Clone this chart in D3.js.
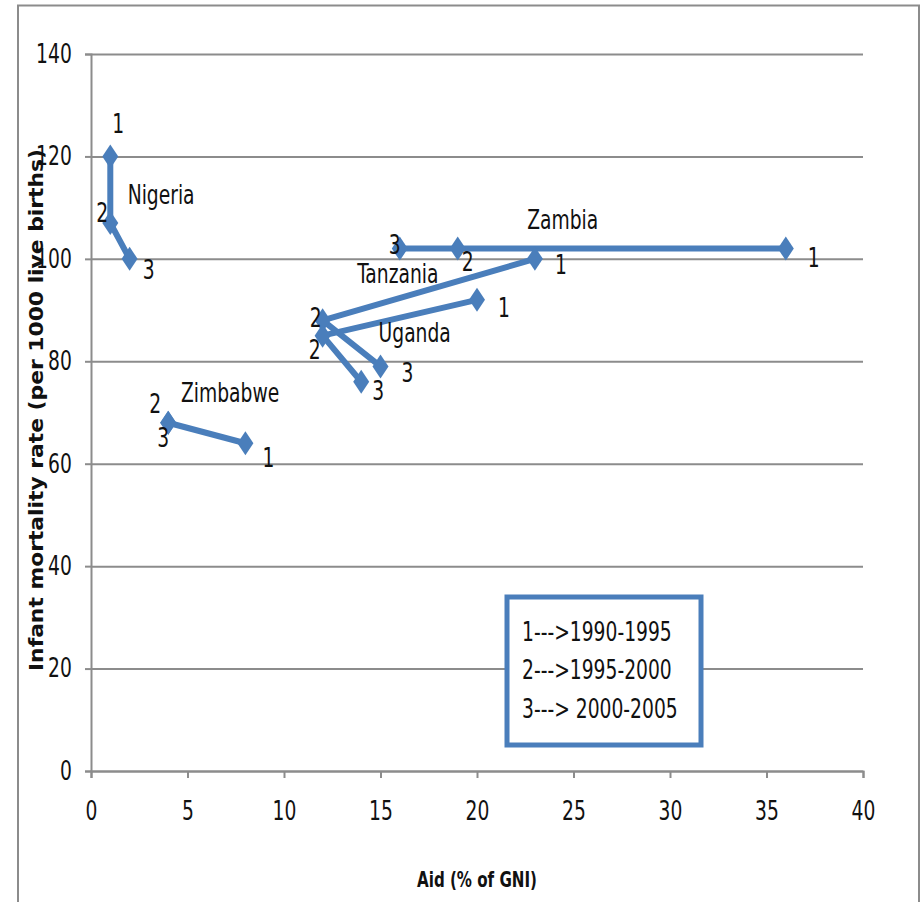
<!DOCTYPE html>
<html>
<head>
<meta charset="utf-8">
<script src="https://cdn.jsdelivr.net/npm/d3@7"></script>
<style>
  body { margin: 0; background: #fff; }
  text { font-family: "DejaVu Sans Condensed", "Liberation Sans", sans-serif; fill: #111; }
</style>
</head>
<body>
<script>
'use strict'

// data: aid (% of GNI) vs infant mortality, periods 1,2,3
const countries = ['Nigeria', 'Zambia', 'Tanzania', 'Uganda', 'Zimbabwe']
const periods = ['1', '2', '3']
const nigeriaAid = [1, 1, 2]
const nigeriaImr = [120, 107, 100]
const zambiaAid = [36, 19, 16]
const zambiaImr = [102, 102, 102]
const tanzaniaAid = [23, 12, 15]
const tanzaniaImr = [100, 88, 79]
const ugandaAid = [20, 12, 14]
const ugandaImr = [92, 85, 76]
const zimbabweAid = [8, 4, 4]
const zimbabweImr = [64, 68, 68]
const xTicks = [0, 5, 10, 15, 20, 25, 30, 35, 40]
const yTicks = [0, 20, 40, 60, 80, 100, 120, 140]
const legendLines = ['1--->1990-1995', '2--->1995-2000', '3---> 2000-2005']

const series = [
    { name: countries[0], aid: nigeriaAid, imr: nigeriaImr },
    { name: countries[1], aid: zambiaAid, imr: zambiaImr },
    { name: countries[2], aid: tanzaniaAid, imr: tanzaniaImr },
    { name: countries[3], aid: ugandaAid, imr: ugandaImr },
    { name: countries[4], aid: zimbabweAid, imr: zimbabweImr }
]

// where the period numbers sit relative to each point (px), per country
const numberOffsets = [
    [[8, -32], [-8, -10], [19, 11]],
    [[28, 10], [10, 14], [-5, -3]],
    [[26, 6], [-7, -2], [27, 7]],
    [[27, 8], [-8, 14], [17, 9]],
    [[23, 15], [-13, -19], [-5, 15]]
]
// country name anchors in data units (left edge, baseline)
const nameAnchors = [[1.9, 110.7], [22.6, 105.9], [13.8, 95.3], [14.9, 83.8], [4.66, 72.1]]

const W = 922, H = 902
const blue = '#4a7ebb'
const grid = '#8c8c8c'
const SQ = 0.8   // horizontal squeeze, the original font is a narrow one

const svg = d3.select('body').append('svg')
    .attr('width', W)
    .attr('height', H)

// text placed with a horizontal squeeze
function label(px, py, str, size) {
    return svg.append('text')
        .attr('transform', `translate(${px},${py}) scale(${SQ},1)`)
        .attr('font-size', size)
        .text(str)
}

// outer chart frame
svg.append('rect')
    .attr('x', 18).attr('y', 5.5)
    .attr('width', 901).attr('height', 920)
    .attr('fill', 'none')
    .attr('stroke', grid)
    .attr('stroke-width', 2)

const x = d3.scaleLinear().domain([0, 40]).range([91, 863])
const y = d3.scaleLinear().domain([0, 140]).range([771, 54])

// horizontal gridlines + y axis
const yAxis = svg.append('g')
    .attr('transform', `translate(${x(0)},0)`)
    .call(d3.axisLeft(y).tickValues(yTicks).tickSize(6).tickPadding(18))
yAxis.select('.domain').attr('stroke', grid).attr('stroke-width', 2)
yAxis.selectAll('.tick line').attr('stroke', grid).attr('stroke-width', 2)
yAxis.selectAll('.tick text')
    .attr('font-size', 26).attr('font-family', null).attr('fill', '#111')
    .attr('transform', `scale(${SQ},1)`)
yAxis.selectAll('.tick').append('line')
    .attr('x1', 0).attr('x2', x(40) - x(0))
    .attr('stroke', grid).attr('stroke-width', 2)

const xAxis = svg.append('g')
    .attr('transform', `translate(0,${y(0)})`)
    .call(d3.axisBottom(x).tickValues(xTicks).tickSize(7).tickPadding(24))
xAxis.select('.domain').attr('stroke', grid).attr('stroke-width', 2)
xAxis.selectAll('.tick line').attr('stroke', grid).attr('stroke-width', 2)
xAxis.selectAll('.tick text')
    .attr('font-size', 26).attr('font-family', null).attr('fill', '#111')
    .attr('transform', `scale(${SQ},1)`)

// axis titles
label(477, 887, 'Aid (% of GNI)', 21)
    .attr('text-anchor', 'middle')
    .attr('font-weight', 'bold')

svg.append('text')
    .attr('transform', 'translate(43,410) rotate(-90)')
    .attr('text-anchor', 'middle')
    .attr('font-weight', 'bold')
    .attr('font-size', 20)
    .attr('font-family', 'DejaVu Sans, sans-serif')
    .attr('textLength', 522)
    .attr('lengthAdjust', 'spacingAndGlyphs')
    .text('Infant mortality rate (per 1000 live births)')

// lines with diamond markers
const line = d3.line()
    .x(d => x(d[0]))
    .y(d => y(d[1]))

const diamond = 'M0,-12L8,0L0,12L-8,0Z'

series.forEach(s => {
    const pts = s.aid.map((a, i) => [a, s.imr[i]])
    const g = svg.append('g')
    g.append('path')
        .datum(pts)
        .attr('d', line)
        .attr('fill', 'none')
        .attr('stroke', blue)
        .attr('stroke-width', 6)
        .attr('stroke-linejoin', 'round')
    g.selectAll('path.m')
        .data(pts)
        .enter()
        .append('path')
        .attr('class', 'm')
        .attr('d', diamond)
        .attr('transform', d => `translate(${x(d[0])},${y(d[1])})`)
        .attr('fill', blue)
})

// period numbers and country names
series.forEach((s, si) => {
    s.aid.forEach((a, i) => {
        const off = numberOffsets[si][i]
        label(x(a) + off[0], y(s.imr[i]) + off[1], periods[i], 26)
            .attr('text-anchor', 'middle')
            .attr('dominant-baseline', 'central')
    })
    label(x(nameAnchors[si][0]), y(nameAnchors[si][1]), s.name, 26)
})

// legend box
svg.append('rect')
    .attr('x', 507).attr('y', 597)
    .attr('width', 194).attr('height', 148)
    .attr('fill', '#fff')
    .attr('stroke', blue)
    .attr('stroke-width', 5)

legendLines.forEach((d, i) => {
    label(522, 632 + i * 38.5, d, 26)
        .attr('dominant-baseline', 'central')
})
</script>
</body>
</html>
